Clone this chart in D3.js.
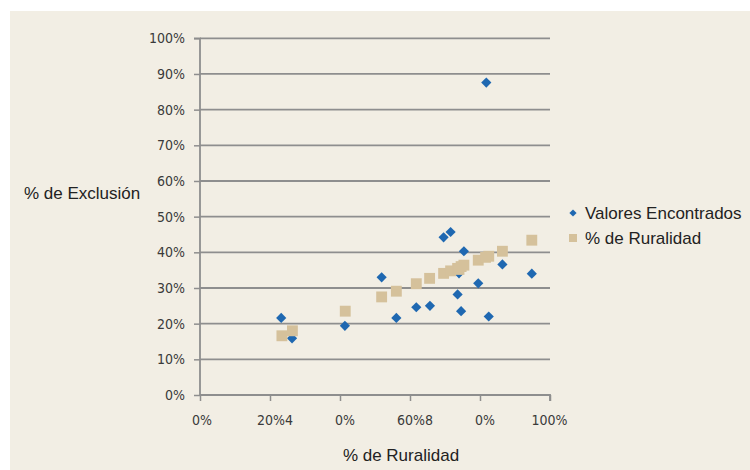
<!DOCTYPE html>
<html><head><meta charset="utf-8">
<script src="https://cdn.jsdelivr.net/npm/d3@7"></script>
<style>
html,body{margin:0;padding:0;background:#fff;}
svg{display:block;}
</style></head>
<body>
<svg id="chart" width="750" height="470"></svg>
<script>
// Data (percent values)
const valoresX = [23.2, 26.3, 41.4, 51.9, 56.1, 61.8, 65.7, 69.6, 71.6, 73.6, 74.6, 75.4, 74.0, 79.5, 82.5, 86.4, 94.8, 81.8];
const valoresY = [21.6, 15.9, 19.4, 33.0, 21.6, 24.6, 25.0, 44.2, 45.7, 28.2, 23.5, 40.3, 34.1, 31.3, 22.0, 36.6, 34.0, 87.6];
const ruralX   = [23.4, 26.4, 41.5, 51.9, 56.1, 61.8, 65.6, 69.6, 71.6, 73.6, 74.6, 75.4, 74.0, 79.5, 82.5, 86.4, 94.8, 81.6];
const ruralY   = [16.6, 18.0, 23.5, 27.5, 29.1, 31.2, 32.7, 34.1, 34.8, 35.5, 36.0, 36.4, 35.2, 37.8, 38.9, 40.3, 43.4, 38.6];
const xTickValues = [0, 20, 40, 60, 80, 100];
const xTickLabels = ["0%", "20%4", "0%", "60%8", "0%", "100%"];
const yTickValues = [0, 10, 20, 30, 40, 50, 60, 70, 80, 90, 100];
const yTickLabels = ["0%", "10%", "20%", "30%", "40%", "50%", "60%", "70%", "80%", "90%", "100%"];
const seriesNames = ["Valores Encontrados", "% de Ruralidad"];
const xTitle = "% de Ruralidad";
const yTitle = "% de Exclusión";

const svg = d3.select("#chart");
const W = 750, H = 470;
const blue = "#1f68b1", tan = "#d5c19b", grid = "#8e8e8e";
const tickFont = "'Liberation Sans Narrow','Arial Narrow','DejaVu Sans Condensed',sans-serif";
const textFont = "'Liberation Sans',Arial,sans-serif";

svg.append("rect").attr("x", 10).attr("y", 11).attr("width", W - 10).attr("height", H - 11).attr("fill", "#f2eee4");

const x = d3.scaleLinear().domain([0, 100]).range([200, 550]);
const y = d3.scaleLinear().domain([0, 100]).range([395, 38.3]);

// horizontal gridlines
svg.append("g").selectAll("line").data(yTickValues.slice(1)).join("line")
  .attr("x1", x(0)).attr("x2", x(100))
  .attr("y1", d => y(d)).attr("y2", d => y(d))
  .attr("stroke", grid).attr("stroke-width", 1.8);

// y axis
const yAxis = d3.axisLeft(y).tickValues(yTickValues).tickSize(6).tickPadding(9)
  .tickFormat((d, i) => yTickLabels[i]);
const gy = svg.append("g").attr("transform", `translate(${x(0)},0)`).call(yAxis);
gy.select(".domain").attr("stroke", grid).attr("stroke-width", 1.8).attr("d", `M-6,${y(100)}H0V${y(0)}`);
gy.selectAll(".tick line").attr("stroke", grid).attr("stroke-width", 1.5);
gy.selectAll(".tick text").attr("fill", "#3a3a3a").style("font-family", tickFont).style("font-size", "14px");

// x axis
const xAxis = d3.axisBottom(x).tickValues(xTickValues).tickSize(6).tickPadding(14)
  .tickFormat((d, i) => xTickLabels[i]);
const gx = svg.append("g").attr("transform", `translate(0,${y(0)})`).call(xAxis);
gx.select(".domain").attr("stroke", grid).attr("stroke-width", 1.8).attr("d", `M${x(0)},0H${x(100)}V6`);
gx.selectAll(".tick line").attr("stroke", grid).attr("stroke-width", 1.5);
gx.selectAll(".tick text").attr("fill", "#3a3a3a").style("font-family", tickFont).style("font-size", "14px")
  .attr("dx", (d, i) => (i > 0 && i < xTickValues.length - 1) ? 4.5 : (i === 0 ? 1.5 : -1));

// points: diamonds (rotated squares)
const diamond = d3.symbol().type(d3.symbolSquare).size(52);
svg.append("g").selectAll("path").data(valoresX.map((v, i) => [v, valoresY[i]])).join("path")
  .attr("d", diamond).attr("transform", d => `translate(${x(d[0])},${y(d[1])}) rotate(45)`)
  .attr("fill", blue);

// points: squares
const square = d3.symbol().type(d3.symbolSquare).size(118);
svg.append("g").selectAll("path").data(ruralX.map((v, i) => [v, ruralY[i]])).join("path")
  .attr("d", square).attr("transform", d => `translate(${x(d[0])},${y(d[1])})`)
  .attr("fill", tan);

// axis titles
svg.append("text").attr("x", 24).attr("y", 199).text(yTitle)
  .style("font-family", textFont).style("font-size", "17px").attr("fill", "#222");
svg.append("text").attr("x", 401).attr("y", 461).attr("text-anchor", "middle").text(xTitle)
  .style("font-family", textFont).style("font-size", "17px").attr("fill", "#222");

// legend
const lg = svg.append("g");
lg.append("path").attr("d", d3.symbol().type(d3.symbolSquare).size(26)).attr("fill", blue)
  .attr("transform", `translate(573,213) rotate(45)`);
lg.append("path").attr("d", d3.symbol().type(d3.symbolSquare).size(64)).attr("fill", tan)
  .attr("transform", `translate(573,238)`);
lg.selectAll("text").data(seriesNames).join("text")
  .attr("x", 585).attr("y", (d, i) => 219 + i * 25).text(d => d)
  .style("font-family", textFont).style("font-size", "17px").attr("fill", "#222");
</script>
</body></html>
